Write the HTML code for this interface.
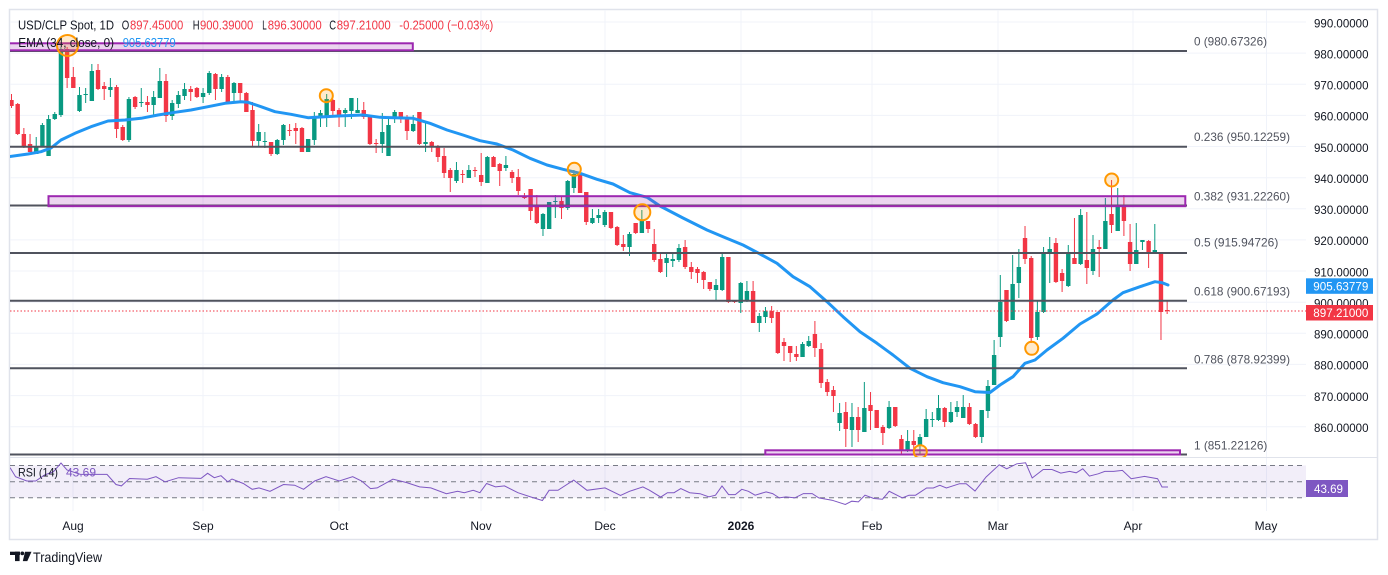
<!DOCTYPE html>
<html><head><meta charset="utf-8"><style>
html,body{margin:0;padding:0;background:#fff;}
svg{display:block;font-family:"Liberation Sans",Arial,sans-serif;}
</style></head><body>
<svg width="1388" height="575" viewBox="0 0 1388 575" xmlns="http://www.w3.org/2000/svg">
<defs>
<clipPath id="pp"><rect x="10" y="10" width="1296" height="447"/></clipPath>
<clipPath id="rp"><rect x="10" y="458" width="1296" height="53"/></clipPath>
</defs>
<rect x="0" y="0" width="1388" height="575" fill="#fff"/>
<rect x="9.5" y="9.5" width="1368" height="530" fill="none" stroke="#e0e3eb" stroke-width="1.5"/>

<g stroke="#f0f3fa" stroke-width="1">
<line x1="10" x2="1306" y1="22" y2="22"/><line x1="10" x2="1306" y1="53.1" y2="53.1"/>
<line x1="10" x2="1306" y1="84.3" y2="84.3"/><line x1="10" x2="1306" y1="115.4" y2="115.4"/>
<line x1="10" x2="1306" y1="146.5" y2="146.5"/><line x1="10" x2="1306" y1="177.7" y2="177.7"/>
<line x1="10" x2="1306" y1="208.8" y2="208.8"/><line x1="10" x2="1306" y1="239.9" y2="239.9"/>
<line x1="10" x2="1306" y1="271" y2="271"/><line x1="10" x2="1306" y1="302.2" y2="302.2"/>
<line x1="10" x2="1306" y1="333.3" y2="333.3"/><line x1="10" x2="1306" y1="364.4" y2="364.4"/>
<line x1="10" x2="1306" y1="395.6" y2="395.6"/><line x1="10" x2="1306" y1="426.7" y2="426.7"/>
</g>
<g stroke="#f0f3fa" stroke-width="1">
<line x1="73" x2="73" y1="10" y2="511"/><line x1="203" x2="203" y1="10" y2="511"/>
<line x1="339" x2="339" y1="10" y2="511"/><line x1="481" x2="481" y1="10" y2="511"/>
<line x1="605" x2="605" y1="10" y2="511"/><line x1="741" x2="741" y1="10" y2="511"/>
<line x1="872" x2="872" y1="10" y2="511"/><line x1="998" x2="998" y1="10" y2="511"/>
<line x1="1133" x2="1133" y1="10" y2="511"/><line x1="1266.5" x2="1266.5" y1="10" y2="511"/>
</g>
<line x1="10" x2="1377" y1="457.5" y2="457.5" stroke="#e0e3eb" stroke-width="1"/>

<g clip-path="url(#rp)">
<rect x="10" y="465.5" width="1296" height="32.2" fill="#7e57c2" fill-opacity="0.1"/>
<g stroke="#787b86" stroke-width="1" stroke-dasharray="5 4">
<line x1="10" x2="1306" y1="465.5" y2="465.5"/>
<line x1="10" x2="1306" y1="481.7" y2="481.7"/>
<line x1="10" x2="1306" y1="497.7" y2="497.7"/>
</g>
<polyline fill="none" stroke="#7e57c2" stroke-width="1" points="10,467.6 15.6,476.7 26.8,481 35.7,481 44.6,475 53.6,471.6 61,463 67,470 80.4,474.4 107,474.4 116,484.5 121.4,485.9 129.5,478.5 147.3,479.2 156,476.7 165,481.8 178.6,477.7 201,478.4 207.6,473.3 214.3,477.7 221,475.7 227.7,481.8 232,479 243.3,483.5 252.2,489.3 259,487.9 270,491.3 283.5,484.5 294.6,485.2 303.6,489.3 314.7,481 326,476.7 339.3,481 352.7,476.7 361.6,481 370.5,488.6 377.2,487.9 392.9,479.2 406.3,482.5 419.6,486.9 430.8,487.9 446.4,493.7 457.6,491.3 464.3,492.7 473.2,490.3 479.9,492.7 486.6,483.5 495.5,486.9 504.5,485.9 517.9,492.7 531.3,497.1 542.4,500.5 549.1,490.3 558,490.3 573.7,480.1 587,490.3 605,487.9 620.5,495.4 629.5,491.3 642.9,486.9 649.6,490.3 660.7,497.1 667.4,492.7 674,492.7 680.8,488.6 689.7,492.7 700,493.7 708.8,496.9 715.5,495.2 722,486 728.6,494.6 735.3,494.6 741.8,489.3 748.4,491.3 755.1,495.2 766.1,491.9 772.6,493.6 779.3,497.9 785.9,496.9 794.7,497.9 803.4,493.6 812.2,493.6 818.8,497.9 832,500.2 845.3,504.5 851.8,501.2 858.4,501.9 865,495.2 873.8,498.5 882.5,499.2 889.2,491.3 902.4,497.9 909,495.2 915.6,495.2 926.6,488 933.3,488 939.8,485.3 946.4,488 959.6,483.7 966.2,483.7 975,491 986,477.1 999.2,464.8 1006.7,468.8 1016.8,463.8 1025.6,462.8 1032.2,478 1043.2,469.5 1052,469.5 1060.8,473.1 1069.6,471.4 1076.2,472.8 1082.8,468.8 1089.4,476.1 1098.2,473.8 1104.8,471.4 1113.6,471.4 1122.4,470.4 1131.2,478.7 1144.4,476.4 1157.6,478.7 1162,487 1168,487"/>
</g>

<g clip-path="url(#pp)">
<!-- candles: green -->
<path fill="none" stroke="#089981" stroke-width="1" d="M36.22 137V154M42.4 123V147M48.58 115V156M54.76 112V120M60.94 47V117M79.48 87V112M85.66 88V103M91.84 64V101M110.38 78V97M128.92 97V142M141.28 88V107M153.64 91V117M159.82 68V98M172.18 100V120M178.36 91V108M184.54 83V100M203.08 88V103M209.26 71V95M221.62 74V92M233.98 82V101M258.7 124V147M264.88 132V148M277.24 139V155M283.42 124V145M308.14 139V152M314.32 112V145M320.5 110V127M326.68 94V127M345.22 108V127M351.4 98V119M357.58 98V113M382.3 113V153M388.48 117V156M394.66 110V123M413.2 115V132M425.56 123V152M456.46 162V183M468.82 165V178M487.36 156V183M505.9 156V171M542.98 213V236M549.16 202V229M555.34 195V218M567.7 180V210M573.88 170V193M592.42 209V224M598.6 209V223M604.78 210V227M629.5 232V256M641.86 210V233M666.58 253V277M672.76 252V267M678.94 244V262M716.02 279V300M722.2 253V291M740.74 282V313M746.92 281V302M759.28 313V332M765.46 307V323M802.54 342V357M808.72 336V347M839.62 403V431M851.98 403V447M864.34 382V432M889.06 401V429M907.6 430V452M919.96 434V454M926.14 409V437M932.32 412V427M938.5 395V421M950.86 402V423M957.04 401V417M963.22 395V418M981.76 410V443M987.94 380V418M994.12 340V385M1000.3 275V347M1012.66 255V320M1018.84 249V298M1037.38 300V340M1043.56 247V313M1049.74 237V283M1068.28 245V287M1080.64 209V265M1093 235V275M1105.36 198V249M1117.72 188V231M1136.26 223V264M1142.44 240V250M1154.8 224V253"/>
<path fill="none" stroke="#089981" stroke-width="4.4" d="M36.22 146V154M42.4 125V147M48.58 119V156M54.76 114V119M60.94 49V115M79.48 95V111M85.66 94V95M91.84 71V101M110.38 87V90M128.92 99V140M141.28 102V103M153.64 97V105M159.82 81V98M172.18 103V116M178.36 95V104M184.54 89V96M203.08 93V97M209.26 73V93M221.62 77V89M233.98 83V93M258.7 132V141M264.88 141V142M277.24 140V154M283.42 125V140M308.14 139V152M314.32 117V140M320.5 113V118M326.68 99V117M345.22 110V113M351.4 98V111M357.58 110V113M382.3 132V144M388.48 125V156M394.66 112V118M413.2 124V131M425.56 142V144M456.46 170V181M468.82 170V178M487.36 157V183M505.9 165V168M542.98 214V229M549.16 202V229M555.34 201V202M567.7 181V208M573.88 174V188M592.42 218V223M598.6 215V218M604.78 212V225M629.5 234V247M641.86 221V233M666.58 258V263M672.76 259V261M678.94 248V260M716.02 285V290M722.2 257V290M740.74 283V303M746.92 291V301M759.28 316V323M765.46 311V317M802.54 344V357M808.72 341V346M839.62 413V423M851.98 417V430M864.34 408V432M889.06 407V428M907.6 441V451M919.96 437V445M926.14 419V437M932.32 419V420M938.5 408V420M950.86 412V422M957.04 407V412M963.22 407V418M981.76 410V437M987.94 386V411M994.12 355V385M1000.3 302V337M1012.66 284V320M1018.84 267V283M1037.38 312V337M1043.56 252V312M1049.74 249V253M1068.28 253V286M1080.64 215V264M1093 249V271M1105.36 221V249M1117.72 207V231M1136.26 250V264M1142.44 240V242M1154.8 250V253"/>
<!-- candles: red -->
<path fill="none" stroke="#f23645" stroke-width="1" d="M11.5 94V108M17.68 103V135M23.86 128V148M30.04 134V152M67.12 47V88M73.3 67V88M98.02 64V90M104.2 82V100M116.56 85V138M122.74 125V141M135.1 96V109M147.46 96V112M166 74V122M190.72 86V101M196.9 87V98M215.44 73V100M227.8 75V102M240.16 83V102M246.34 92V112M252.52 102V146M271.06 142V156M289.6 124V136M295.78 123V144M301.96 127V152M332.86 99V117M339.04 108V127M363.76 102V119M369.94 117V145M376.12 139V153M400.84 112V123M407.02 115V140M419.38 112V145M431.74 141V152M437.92 145V162M444.1 148V178M450.28 168V192M462.64 170V183M475 167V177M481.18 153V186M493.54 156V167M499.72 163V186M512.08 170V183M518.26 169V195M524.44 193V199M530.62 189V220M536.8 195V224M561.52 197V219M580.06 173V193M586.24 192V225M610.96 212V229M617.14 226V246M623.32 235V251M635.68 223V234M648.04 221V233M654.22 229V262M660.4 254V273M685.12 240V269M691.3 262V279M697.48 267V283M703.66 271V289M709.84 282V291M728.38 257V303M734.56 300V303M753.1 281V323M771.64 306V323M777.82 312V354M784 338V361M790.18 346V362M796.36 346V361M814.9 321V357M821.08 343V388M827.26 379V396M833.44 386V412M845.8 402V447M858.16 407V442M870.52 392V430M876.7 410V428M882.88 425V445M895.24 407V427M901.42 435V454M913.78 430V454M944.68 407V427M969.4 403V425M975.58 423V438M1006.48 290V322M1025.02 226V264M1031.2 256V343M1055.92 238V283M1062.1 269V292M1074.46 218V264M1086.82 212V284M1099.18 240V277M1111.54 180V233M1123.9 195V236M1130.08 224V271M1148.62 240V268M1160.98 252V340M1167.16 301V314"/>
<path fill="none" stroke="#f23645" stroke-width="4.4" d="M11.5 100V106M17.68 104V134M23.86 134V147M30.04 144V152M67.12 49V78M73.3 77V88M98.02 70V89M104.2 86V89M116.56 87V129M122.74 127V140M135.1 97V107M147.46 102V105M166 81V116M190.72 89V92M196.9 88V97M215.44 74V89M227.8 77V102M240.16 83V93M246.34 93V112M252.52 110V141M271.06 142V154M289.6 130V131M295.78 128V131M301.96 128V152M332.86 100V111M339.04 110V117M363.76 110V117M369.94 117V144M376.12 143V144M400.84 112V119M407.02 118V131M419.38 112V144M431.74 142V147M437.92 147V157M444.1 156V173M450.28 170V178M462.64 174V175M475 170V171M481.18 175V182M493.54 157V167M499.72 164V171M512.08 172V178M518.26 177V191M524.44 196V198M530.62 189V211M536.8 207V223M561.52 201V208M580.06 174V193M586.24 192V222M610.96 212V228M617.14 227V245M623.32 244V247M635.68 223V233M648.04 221V229M654.22 244V260M660.4 259V272M685.12 247V267M691.3 267V272M697.48 269V273M703.66 272V280M709.84 282V289M728.38 257V302M734.56 301V302M753.1 291V323M771.64 311V318M777.82 312V353M784 342V346M790.18 346V353M796.36 354V357M814.9 334V348M821.08 349V383M827.26 382V392M833.44 390V396M845.8 412V429M858.16 417V430M870.52 405V411M876.7 410V428M882.88 427V433M895.24 407V426M901.42 439V451M913.78 441V445M944.68 408V422M969.4 407V424M975.58 424V437M1006.48 290V321M1025.02 238V259M1031.2 258V338M1055.92 243V282M1062.1 273V281M1074.46 258V264M1086.82 260V268M1099.18 247V249M1111.54 214V225M1123.9 207V221M1130.08 242V264M1148.62 241V253M1160.98 252V312M1167.16 310V311"/>

<!-- EMA -->
<polyline fill="none" stroke="#2196f3" stroke-width="3" stroke-linejoin="round" stroke-linecap="round" points="8,156.8 28,154 41,151.7 51,148 61,140 75,133.3 91,126.7 108,121 125,120 141,118.3 158,115 175,112.3 191,110 208,106.7 225,103.3 241,101.7 248,102.3 261,106.7 275,111.7 291,114.3 308,117.7 325,116.7 338,116 363,115 380,117.3 413,118.3 430,123.3 447,130 463,135 480,140.7 497,144 513,150 530,158.3 547,165 563,169.3 580,173.3 597,179.3 613,184 630,192.7 647,197.3 660,206 683,218 707,230 723,236.7 743,245 760,254 777,263.3 793,276.7 810,286.7 827,301.7 843,316.7 860,331.7 877,343.3 893,355 910,368.3 927,376.7 943,382.7 960,386.7 975,391.7 990,392.5 1000,385 1013,376.7 1025,363.3 1035,360 1047,350 1063,338.3 1080,324 1097,314 1113,300 1123,292.7 1140,286.7 1155,281.7 1162,282.7 1168,285"/>

<!-- fib lines -->
<g stroke="#50535e" stroke-width="2">
<line x1="10" x2="1187" y1="51" y2="51"/>
<line x1="10" x2="1187" y1="146.7" y2="146.7"/>
<line x1="10" x2="1187" y1="205.5" y2="205.5"/>
<line x1="10" x2="1187" y1="253" y2="253"/>
<line x1="10" x2="1187" y1="300.8" y2="300.8"/>
<line x1="10" x2="1187" y1="368.3" y2="368.3"/>
<line x1="10" x2="1187" y1="454.5" y2="454.5"/>
</g>
<g fill="#9c27b0" fill-opacity="0.2" stroke="#9c27b0" stroke-width="2">
<rect x="2" y="43.3" width="410.8" height="7"/>
<rect x="48.5" y="196.2" width="1136.8" height="10"/>
<rect x="765.3" y="450.3" width="414.7" height="4.2"/>
</g>
<line x1="10" x2="1306" y1="311" y2="311" stroke="#f23645" stroke-width="1" stroke-dasharray="1.5 2"/>
<g fill="#ff9800" fill-opacity="0.2" stroke="#ff9800" stroke-width="2">
<circle cx="67.5" cy="45.5" r="10.5"/>
<circle cx="326.3" cy="95.7" r="6.5"/>
<circle cx="574.3" cy="169.3" r="6.5"/>
<circle cx="642.3" cy="212.3" r="8"/>
<circle cx="920.3" cy="451.7" r="6.5"/>
<circle cx="1031.7" cy="348.3" r="6.5"/>
<circle cx="1111.7" cy="180" r="6.5"/>
</g>
</g>

<g font-size="13">
<text x="18" y="29.5" fill="#131722" textLength="96" lengthAdjust="spacingAndGlyphs">USD/CLP Spot, 1D</text>
<text x="121.7" y="29.5" fill="#131722" textLength="7.5" lengthAdjust="spacingAndGlyphs">O</text>
<text x="130" y="29.5" fill="#f23645" textLength="53.3" lengthAdjust="spacingAndGlyphs">897.45000</text>
<text x="192.7" y="29.5" fill="#131722" textLength="6.8" lengthAdjust="spacingAndGlyphs">H</text>
<text x="200" y="29.5" fill="#f23645" textLength="53.3" lengthAdjust="spacingAndGlyphs">900.39000</text>
<text x="262.3" y="29.5" fill="#131722" textLength="4.5" lengthAdjust="spacingAndGlyphs">L</text>
<text x="267.7" y="29.5" fill="#f23645" textLength="54" lengthAdjust="spacingAndGlyphs">896.30000</text>
<text x="329.3" y="29.5" fill="#131722" textLength="6.8" lengthAdjust="spacingAndGlyphs">C</text>
<text x="336.7" y="29.5" fill="#f23645" textLength="54" lengthAdjust="spacingAndGlyphs">897.21000</text>
<text x="399.3" y="29.5" fill="#f23645" textLength="94" lengthAdjust="spacingAndGlyphs">-0.25000 (−0.03%)</text>
<text x="18.3" y="47" fill="#131722" textLength="95.7" lengthAdjust="spacingAndGlyphs">EMA (34, close, 0)</text>
<text x="122.7" y="47" fill="#2196f3" textLength="53" lengthAdjust="spacingAndGlyphs">905.63779</text>
<text x="18" y="476.5" fill="#131722" font-size="12" textLength="40" lengthAdjust="spacingAndGlyphs">RSI (14)</text>
<text x="66" y="476.5" fill="#7e57c2" font-size="12" textLength="30" lengthAdjust="spacingAndGlyphs">43.69</text>
</g>

<g font-size="12" fill="#50535e">
<text x="1194" y="45.3" textLength="73" lengthAdjust="spacingAndGlyphs">0 (980.67326)</text>
<text x="1194" y="141" textLength="96" lengthAdjust="spacingAndGlyphs">0.236 (950.12259)</text>
<text x="1194" y="200.3" textLength="96" lengthAdjust="spacingAndGlyphs">0.382 (931.22260)</text>
<text x="1194" y="246.6" textLength="84.3" lengthAdjust="spacingAndGlyphs">0.5 (915.94726)</text>
<text x="1194" y="295.3" textLength="96" lengthAdjust="spacingAndGlyphs">0.618 (900.67193)</text>
<text x="1194" y="363.3" textLength="96" lengthAdjust="spacingAndGlyphs">0.786 (878.92399)</text>
<text x="1194" y="449.3" textLength="73.3" lengthAdjust="spacingAndGlyphs">1 (851.22126)</text>
</g>

<g font-size="12" fill="#131722">
<text x="1314" y="27.3" textLength="54.5" lengthAdjust="spacingAndGlyphs">990.00000</text>
<text x="1314" y="58.4" textLength="54.5" lengthAdjust="spacingAndGlyphs">980.00000</text>
<text x="1314" y="89.6" textLength="54.5" lengthAdjust="spacingAndGlyphs">970.00000</text>
<text x="1314" y="120.7" textLength="54.5" lengthAdjust="spacingAndGlyphs">960.00000</text>
<text x="1314" y="151.8" textLength="54.5" lengthAdjust="spacingAndGlyphs">950.00000</text>
<text x="1314" y="183" textLength="54.5" lengthAdjust="spacingAndGlyphs">940.00000</text>
<text x="1314" y="214.1" textLength="54.5" lengthAdjust="spacingAndGlyphs">930.00000</text>
<text x="1314" y="245.2" textLength="54.5" lengthAdjust="spacingAndGlyphs">920.00000</text>
<text x="1314" y="276.3" textLength="54.5" lengthAdjust="spacingAndGlyphs">910.00000</text>
<text x="1314" y="307.5" textLength="54.5" lengthAdjust="spacingAndGlyphs">900.00000</text>
<text x="1314" y="338.6" textLength="54.5" lengthAdjust="spacingAndGlyphs">890.00000</text>
<text x="1314" y="369.7" textLength="54.5" lengthAdjust="spacingAndGlyphs">880.00000</text>
<text x="1314" y="400.9" textLength="54.5" lengthAdjust="spacingAndGlyphs">870.00000</text>
<text x="1314" y="432" textLength="54.5" lengthAdjust="spacingAndGlyphs">860.00000</text>
</g>
<rect x="1306" y="278.3" width="67" height="15.5" fill="#2196f3"/>
<text x="1313.3" y="290.3" font-size="12" fill="#fff" textLength="55" lengthAdjust="spacingAndGlyphs">905.63779</text>
<rect x="1306" y="305" width="67" height="15.5" fill="#f23645"/>
<text x="1313.3" y="317" font-size="12" fill="#fff" textLength="55" lengthAdjust="spacingAndGlyphs">897.21000</text>
<rect x="1306" y="480" width="42" height="17" fill="#7e57c2"/>
<text x="1314" y="492.8" font-size="12" fill="#fff" textLength="29" lengthAdjust="spacingAndGlyphs">43.69</text>

<g font-size="12" fill="#131722" text-anchor="middle">
<text x="73" y="530">Aug</text>
<text x="203" y="530">Sep</text>
<text x="339" y="530">Oct</text>
<text x="481" y="530">Nov</text>
<text x="605" y="530">Dec</text>
<text x="741" y="530" font-weight="bold">2026</text>
<text x="872" y="530">Feb</text>
<text x="998" y="530">Mar</text>
<text x="1133" y="530">Apr</text>
<text x="1266" y="530">May</text>
</g>

<g fill="#131722">
<rect x="10" y="551.7" width="10" height="3.3"/>
<rect x="15" y="551.7" width="4.6" height="9.4"/>
<circle cx="22.3" cy="553.4" r="1.9"/>
<polygon points="25,551.7 31.5,551.7 27.3,561.1 22.8,561.1"/>
</g>
<text x="33" y="562" font-size="14" fill="#131722" textLength="69" lengthAdjust="spacingAndGlyphs">TradingView</text>
</svg>
</body></html>
